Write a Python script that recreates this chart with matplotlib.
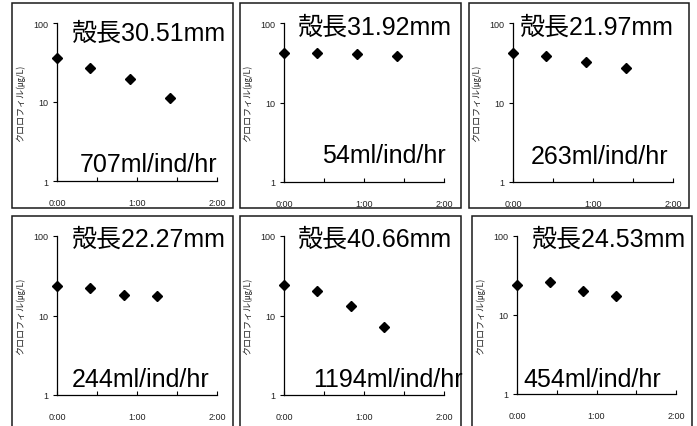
import matplotlib
matplotlib.use('Agg')
import matplotlib.pyplot as plt
from matplotlib.patches import Rectangle
from matplotlib.ticker import FixedLocator, NullFormatter

plt.rcParams['font.family'] = ['Liberation Sans', 'Noto Sans CJK JP', 'DejaVu Sans']

# elapsed minutes and chlorophyll (ug/L) for each shell
minutes_top = [0, 25, 55, 85]
minutes_bottom = [0, 25, 50, 75]
chl_1 = [36.5, 26.8, 19.5, 11.2]
chl_2 = [42.5, 42.5, 40.5, 38.0]
chl_3 = [42.5, 38.0, 32.5, 27.5]
chl_4 = [23.4, 22.3, 18.3, 17.4]
chl_5 = [24.1, 20.6, 13.3, 7.25]
chl_6 = [23.9, 25.8, 20.3, 17.2]

shell_labels = ['殻長30.51mm', '殻長31.92mm', '殻長21.97mm',
                '殻長22.27mm', '殻長40.66mm', '殻長24.53mm']
rate_labels = ['707ml/ind/hr', '54ml/ind/hr', '263ml/ind/hr',
               '244ml/ind/hr', '1194ml/ind/hr', '454ml/ind/hr']
series = [(minutes_top, chl_1), (minutes_top, chl_2), (minutes_top, chl_3),
          (minutes_bottom, chl_4), (minutes_bottom, chl_5), (minutes_bottom, chl_6)]

W, H = 697, 427
fig = plt.figure(figsize=(W / 100, H / 100), dpi=100)

def fx(px):
    return px / W

def fy(py):
    return 1 - py / H

# pixel layout: frame box, plot area, label anchors
frames = [(12, 4, 233, 209), (240, 4, 461, 209), (469, 4, 689, 209),
          (12, 217, 233, 440), (240, 217, 461, 440), (472, 217, 692, 440)]
plots = [(57, 24, 217, 182), (284, 24, 444, 183), (513, 24, 673, 183),
         (57, 237, 217, 396), (284, 237, 444, 396), (517, 237, 676, 395)]
title_pos = [(72, 34), (298, 28), (520, 28), (72, 240), (298, 240), (532, 240)]
rate_pos = [(80, 165), (322, 156), (531, 157), (72, 380), (313, 380), (523, 380)]

for i in range(6):
    l, t, r, b = frames[i]
    box = Rectangle((fx(l), fy(b)), fx(r - l), (b - t) / H, transform=fig.transFigure,
                    facecolor='white', edgecolor='#1a1a1a', linewidth=1.1, zorder=i)
    fig.patches.append(box)

    pl, pt, pr, pb = plots[i]
    ax = fig.add_axes([fx(pl), fy(pb), fx(pr - pl), (pb - pt) / H])
    ax.set_zorder(i + 0.5)
    ax.patch.set_visible(False)
    x, y = series[i]
    ax.plot(x, y, linestyle='none', marker='D', markersize=5.5, color='black', clip_on=False)

    ax.set_yscale('log')
    ax.set_ylim(1, 100)
    ax.set_xlim(0, 120)
    ax.set_yticks([1, 10, 100])
    ax.set_yticklabels(['1', '10', '100'])
    ax.yaxis.set_minor_locator(FixedLocator([]))
    ax.yaxis.set_minor_formatter(NullFormatter())
    ax.set_xticks([0, 60, 120])
    ax.set_xticklabels(['0:00', '1:00', '2:00'])
    ax.xaxis.set_minor_locator(FixedLocator([30, 90]))
    ax.tick_params(axis='y', which='both', direction='out', length=3, width=0.8,
                   labelsize=6.5, pad=3, labelcolor='#222222')
    ax.tick_params(axis='x', which='both', direction='in', length=3, width=0.8,
                   labelsize=6.5, pad=12, labelcolor='#222222')
    for s in ('top', 'right'):
        ax.spines[s].set_visible(False)
    for s in ('left', 'bottom'):
        ax.spines[s].set_linewidth(0.9)
    ax.set_ylabel('クロロフィル(㎍/L)', fontsize=6.5, color='#222222',
                  family=['Noto Sans CJK JP', 'DejaVu Sans'])
    ax.yaxis.set_label_coords(-0.2, 0.5)

    tx, ty = title_pos[i]
    fig.text(fx(tx), fy(ty), shell_labels[i], fontsize=18, ha='left', va='center',
             zorder=i + 0.6)
    rx, ry = rate_pos[i]
    rt = fig.text(fx(rx), fy(ry), rate_labels[i], fontsize=18, ha='left', va='center',
                  zorder=i + 0.6)
    clip = Rectangle((fx(l), fy(b)), fx(r - l + 2), (b - t) / H, transform=fig.transFigure)
    rt.set_clip_path(clip)

fig.savefig('out.png', dpi=100)
